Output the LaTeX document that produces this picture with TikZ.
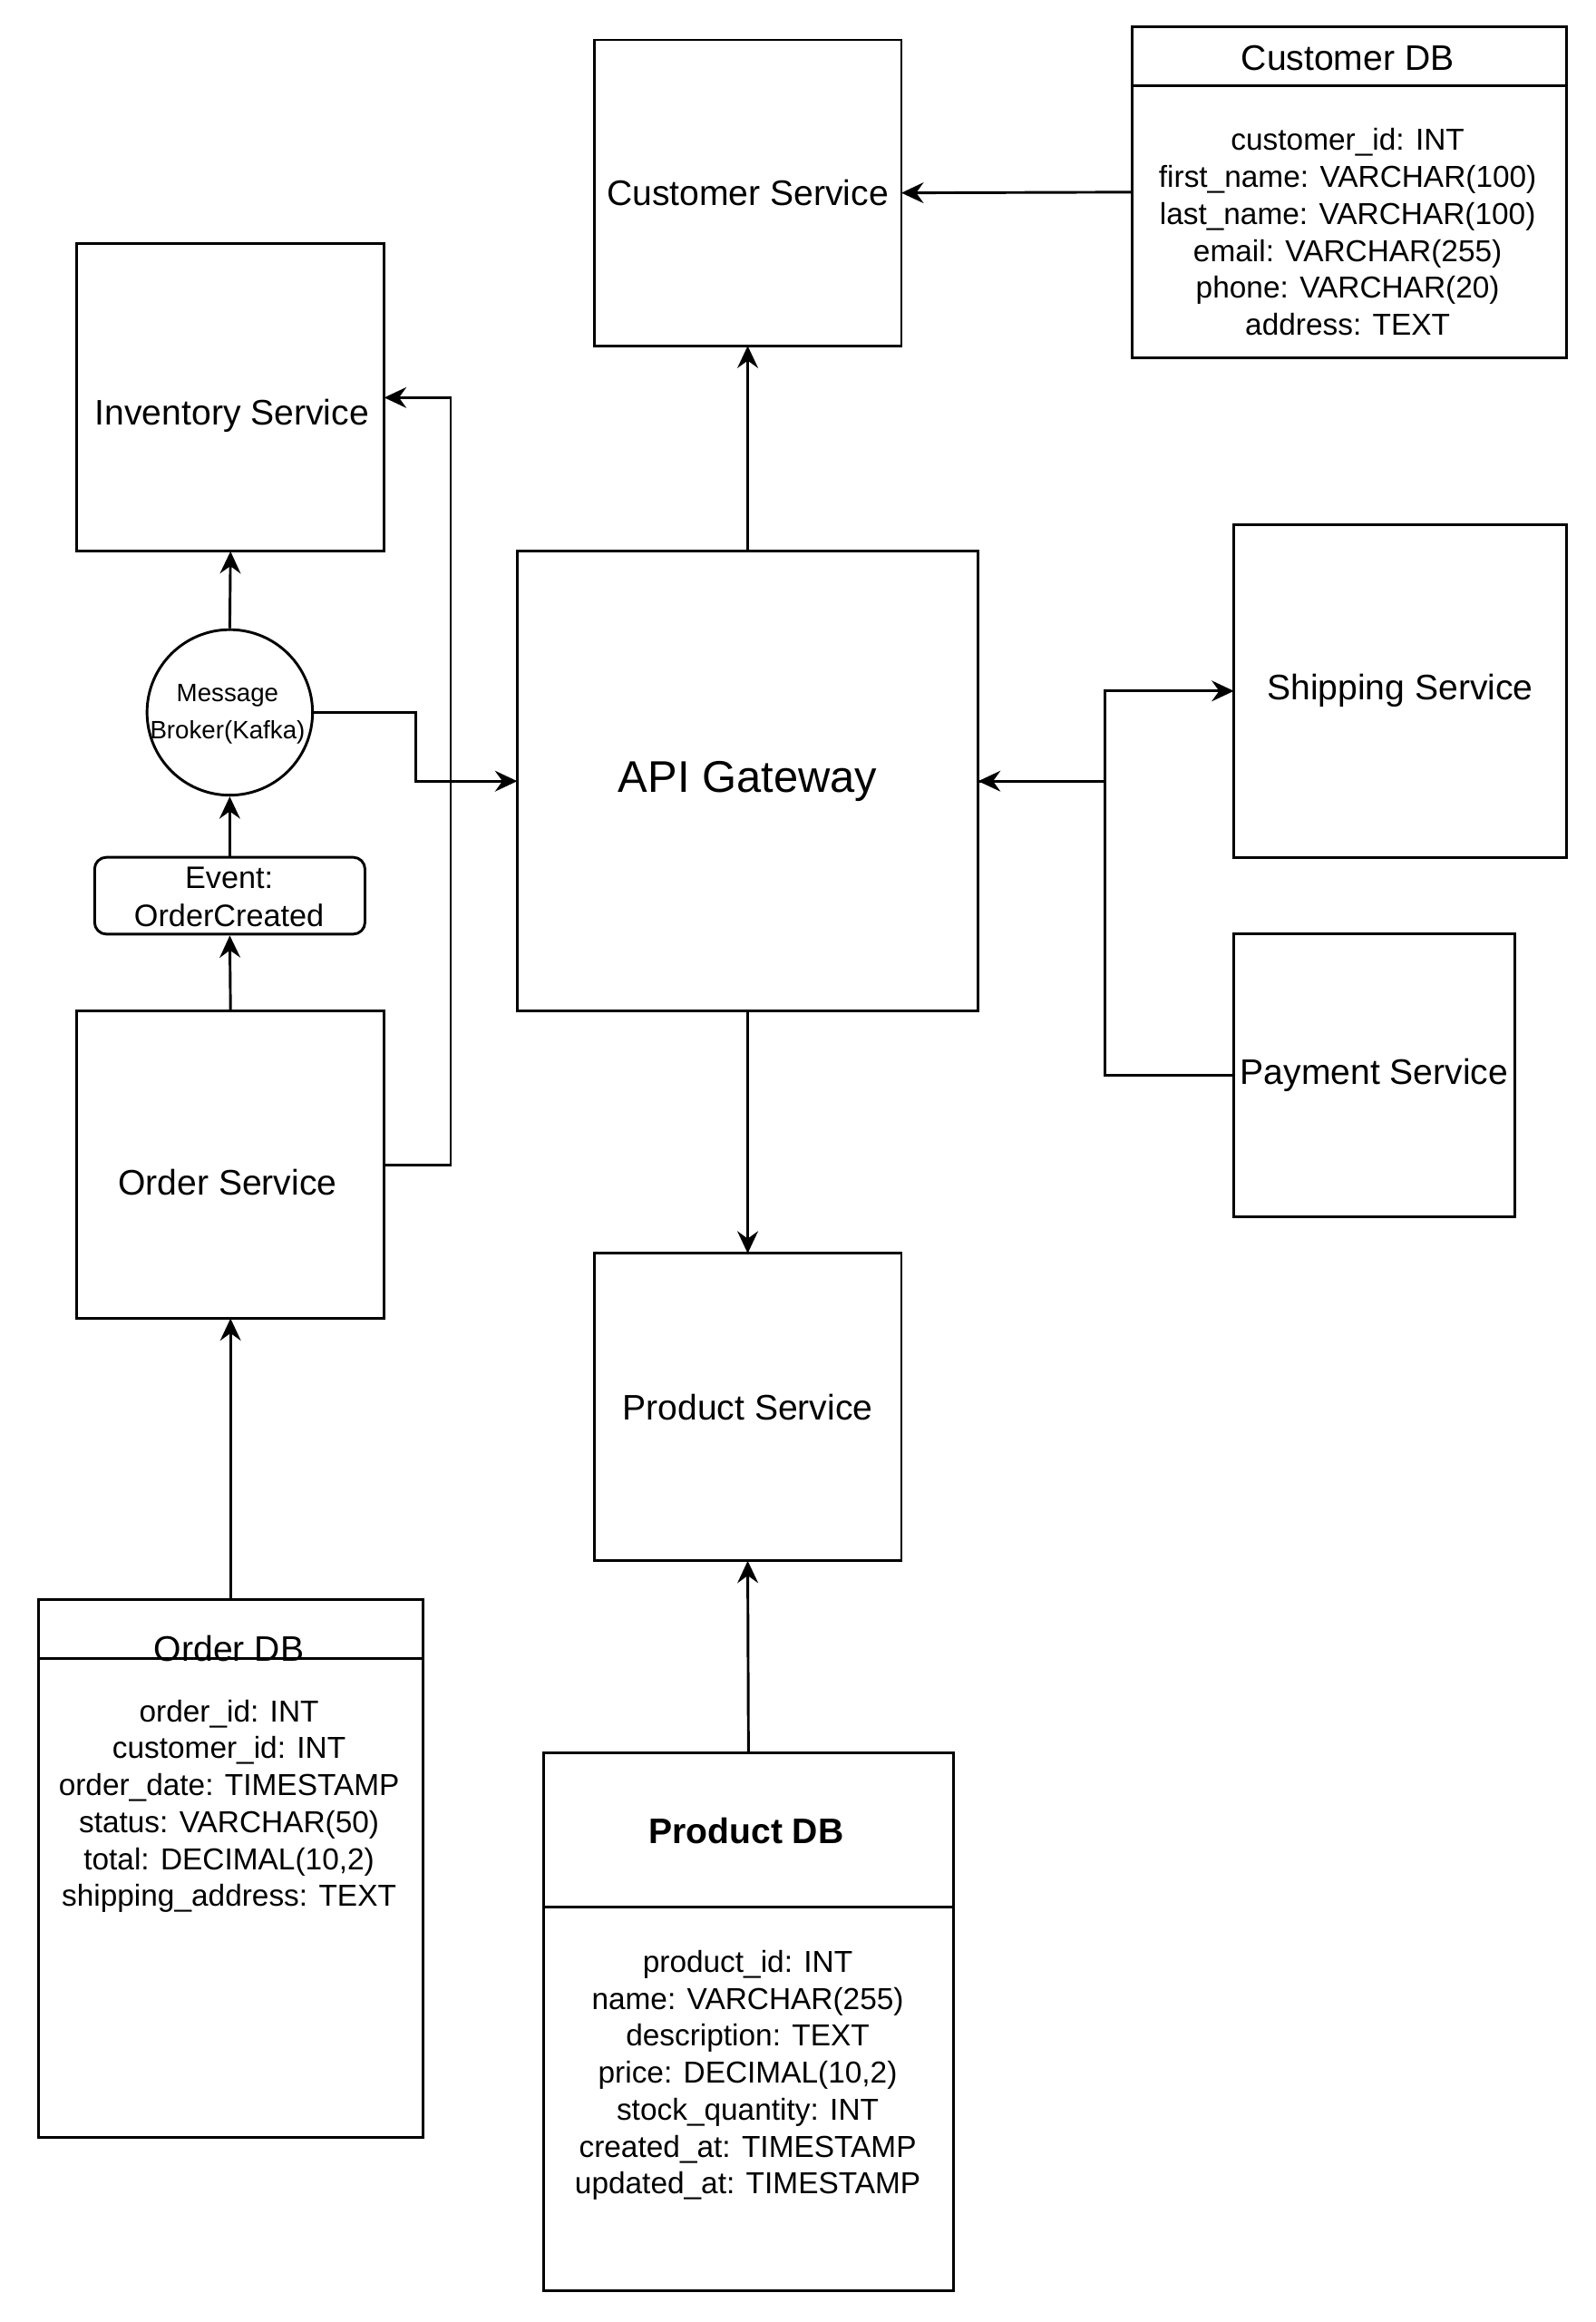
\documentclass[tikz,border=0pt]{standalone}
\usepackage{fontspec}
\setmainfont{Liberation Sans}
\usetikzlibrary{arrows.meta}
\begin{document}
\begin{tikzpicture}[x=1pt,y=-1pt,
  lw/.style={line width=1.8pt},
  box/.style={draw, lw, inner sep=0pt, outer sep=0pt, align=center, font=\fontsize{24}{28}\selectfont},
  field/.style={inner sep=0pt, align=center, font=\fontsize{20.5}{25}\selectfont},
  lbl/.style={inner sep=0pt, align=center, font=\fontsize{24}{28}\selectfont},
  arr/.style={lw, -{Stealth[length=15pt,width=14pt,inset=5pt]}},
  ln/.style={lw}]
\fill[white] (0,0) rectangle (1080,1571);
\useasboundingbox (0,0) rectangle (1080,1571);

% service boxes
\node[box, minimum width=208pt, minimum height=207pt] (cs) at (506,130.5) {Customer Service};
\node[box, minimum width=208pt, minimum height=208pt] (inv) at (156,269) {};
\node[lbl] (invt) at (157,281) {Inventory Service};
\node[box, minimum width=312pt, minimum height=311pt, font=\fontsize{30}{34}\selectfont] (gw) at (506,528.5) {API Gateway};
\node[box, minimum width=225pt, minimum height=225pt] (ship) at (947.5,467.5) {Shipping Service};
\node[box, minimum width=190pt, minimum height=191pt] (pay) at (930,727.5) {Payment Service};
\node[box, minimum width=208pt, minimum height=208pt] (os) at (156,788) {};
\node[lbl] (ost) at (154,800) {Order Service};
\node[box, minimum width=208pt, minimum height=208pt] (ps) at (506,952) {Product Service};

% message broker and event
\node[draw, lw, circle, minimum size=112pt, inner sep=0pt] (mb) at (155.5,482) {};
\node[inner sep=0pt, align=center, font=\fontsize{17}{25}\selectfont] (mbt) at (154,483) {Message\\Broker(Kafka)};
\node[draw, lw, rounded corners=8pt, minimum width=183pt, minimum height=52pt, inner sep=0pt] (ev) at (155.5,606) {};
\node[inner sep=0pt, align=center, font=\fontsize{21}{26}\selectfont] (evt) at (155,607) {Event:\\OrderCreated};

% Customer DB
\node[draw, lw, minimum width=294pt, minimum height=224pt, inner sep=0pt] (cdb) at (913,130) {};
\coordinate (cdbh) at (913,58);
\draw[ln] (cdb.west |- cdbh) -- (cdb.east |- cdbh);
\node[lbl] (cdbt) at (912,39) {Customer DB};
\node[field] (cdbf) at (912,157) {customer\_id: INT\\first\_name: VARCHAR(100)\\last\_name: VARCHAR(100)\\email: VARCHAR(255)\\phone: VARCHAR(20)\\address: TEXT};

% Order DB
\node[draw, lw, minimum width=260pt, minimum height=364pt, inner sep=0pt] (odb) at (156,1264) {};
\coordinate (odbh) at (156,1122);
\draw[ln] (odb.west |- odbh) -- (odb.east |- odbh);
\node[lbl, anchor=base] (odbt) at (155,1124) {Order DB};
\node[field] (odbf) at (155,1222) {order\_id: INT\\customer\_id: INT\\order\_date: TIMESTAMP\\status: VARCHAR(50)\\total: DECIMAL(10,2)\\shipping\_address: TEXT};

% Product DB
\node[draw, lw, minimum width=277pt, minimum height=364pt, inner sep=0pt] (pdb) at (506.5,1368) {};
\coordinate (pdbh) at (506,1290);
\draw[ln] (pdb.west |- pdbh) -- (pdb.east |- pdbh);
\node[lbl, font=\fontsize{24}{28}\selectfont\bfseries] (pdbt) at (505,1239) {Product DB};
\node[field] (pdbf) at (506,1404) {product\_id: INT\\name: VARCHAR(255)\\description: TEXT\\price: DECIMAL(10,2)\\stock\_quantity: INT\\created\_at: TIMESTAMP\\updated\_at: TIMESTAMP};

% connectors
\draw[arr] (gw.north) -- (cs.south);
\draw[arr] (cdb.west) -- (cs.east);
\draw[arr] (gw.south) -- (ps.north);
\draw[arr] (pdb.north) -- (ps.south);
\draw[arr] (odb.north) -- (os.south);
\draw[arr] (os.north) -- (ev.south);
\draw[arr] (ev.north) -- (mb.south);
\draw[arr] (mb.north) -- (inv.south);
\draw[arr] (mb.east) -- ++(69,0) |- (gw.west);
\draw[arr] (os.east) -- ++(45,0) |- (inv.east);
\draw[arr] (pay.west) -- ++(-87,0) |- (gw.east);
\draw[arr] (gw.east) -- ++(86,0) |- (ship.west);
\end{tikzpicture}
\end{document}
